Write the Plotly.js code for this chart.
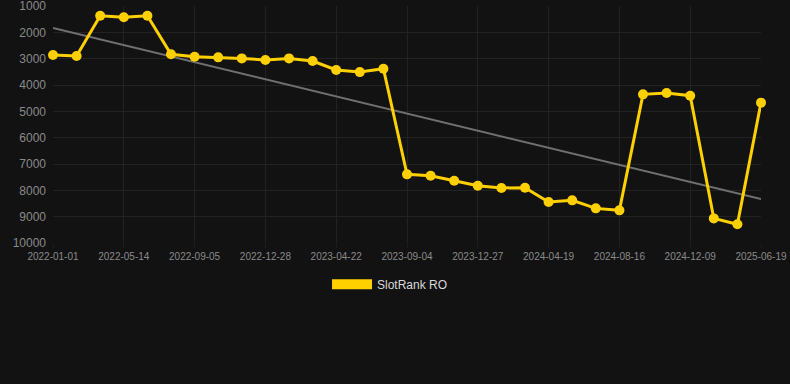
<!DOCTYPE html>
<html>
<head>
<meta charset="utf-8">
<script src="https://cdn.plot.ly/plotly-3.0.1.min.js"></script>
<style>
html,body{margin:0;padding:0;background:#121212;}
#chart{width:790px;height:384px;}
</style>
</head>
<body>
<div id="chart"></div>
<script>
const dates = [
  "2022-01-01","2022-02-14","2022-03-29","2022-05-14","2022-06-21","2022-07-29",
  "2022-09-05","2022-10-13","2022-11-20","2022-12-28","2023-02-04","2023-03-14",
  "2023-04-22","2023-06-05","2023-07-21","2023-09-04","2023-10-12","2023-11-19",
  "2023-12-27","2024-02-02","2024-03-12","2024-04-19","2024-05-28","2024-07-07",
  "2024-08-16","2024-09-23","2024-10-31","2024-12-09","2025-02-12","2025-04-17",
  "2025-06-19"
];
const ranks = [
  2860, 2900, 1370, 1430, 1370, 2835,
  2925, 2950, 2990, 3050, 2990, 3090,
  3430, 3510, 3380, 7393, 7445, 7635,
  7825, 7910, 7900, 8445, 8380, 8685,
  8760, 4355, 4305, 4405, 9065, 9290,
  4670
];
const yTicks = [1000, 2000, 3000, 4000, 5000, 6000, 7000, 8000, 9000, 10000];
const seriesName = "SlotRank RO";

// linear regression trend over index
const n = ranks.length;
const idx = ranks.map((_, i) => i);
const mx = idx.reduce((a, b) => a + b, 0) / n;
const my = ranks.reduce((a, b) => a + b, 0) / n;
let sxy = 0, sxx = 0;
for (let i = 0; i < n; i++) { sxy += (i - mx) * (ranks[i] - my); sxx += (i - mx) * (i - mx); }
const slope = sxy / sxx;
const intercept = my - slope * mx;
const trendY = idx.map(i => intercept + slope * i);

const tickDates = dates.filter((_, i) => i % 3 === 0);

const gold = "#FFD000";

const traces = [
  {
    x: dates, y: trendY, type: "scatter", mode: "lines",
    line: {color: "#707070", width: 2},
    showlegend: false, hoverinfo: "skip"
  },
  {
    x: dates, y: ranks, type: "scatter", mode: "lines+markers",
    line: {color: gold, width: 3},
    marker: {color: gold, size: 10},
    cliponaxis: false,
    showlegend: false, name: seriesName
  },
  {
    x: [null], y: [null], type: "scatter", mode: "lines",
    line: {color: gold, width: 10},
    name: seriesName, showlegend: true
  }
];

const layout = {
  width: 790, height: 384,
  paper_bgcolor: "#121212", plot_bgcolor: "#121212",
  font: {family: "Liberation Sans, Arial, sans-serif", color: "#8a8a8a"},
  margin: {l: 53, r: 29, t: 6, b: 141},
  xaxis: {
    type: "category",
    range: [0, n - 1],
    tickmode: "array",
    tickvals: tickDates,
    ticktext: tickDates,
    tickfont: {size: 10, color: "#8a8a8a"},
    showgrid: true, gridcolor: "#222222", gridwidth: 1,
    zeroline: false, showline: false,
    ticks: "outside", ticklen: 4, tickcolor: "#1c1c1c"
  },
  yaxis: {
    range: [10000, 1000],
    tickmode: "array",
    tickvals: yTicks,
    ticktext: yTicks.map(String),
    tickfont: {size: 12, color: "#8a8a8a"},
    ticklabeloverflow: "allow",
    showgrid: true, gridcolor: "#222222", gridwidth: 1,
    zeroline: false, showline: false,
    ticks: "", ticklabelstandoff: 6
  },
  showlegend: true,
  legend: {
    orientation: "h",
    xref: "container", yref: "container",
    x: 0.4937, xanchor: "center",
    y: 0.26, yanchor: "middle",
    font: {size: 12, color: "#d8d8d8"},
    itemwidth: 40,
    bgcolor: "rgba(0,0,0,0)"
  }
};

Plotly.newPlot("chart", traces, layout, {displayModeBar: false, staticPlot: true});
</script>
</body>
</html>
